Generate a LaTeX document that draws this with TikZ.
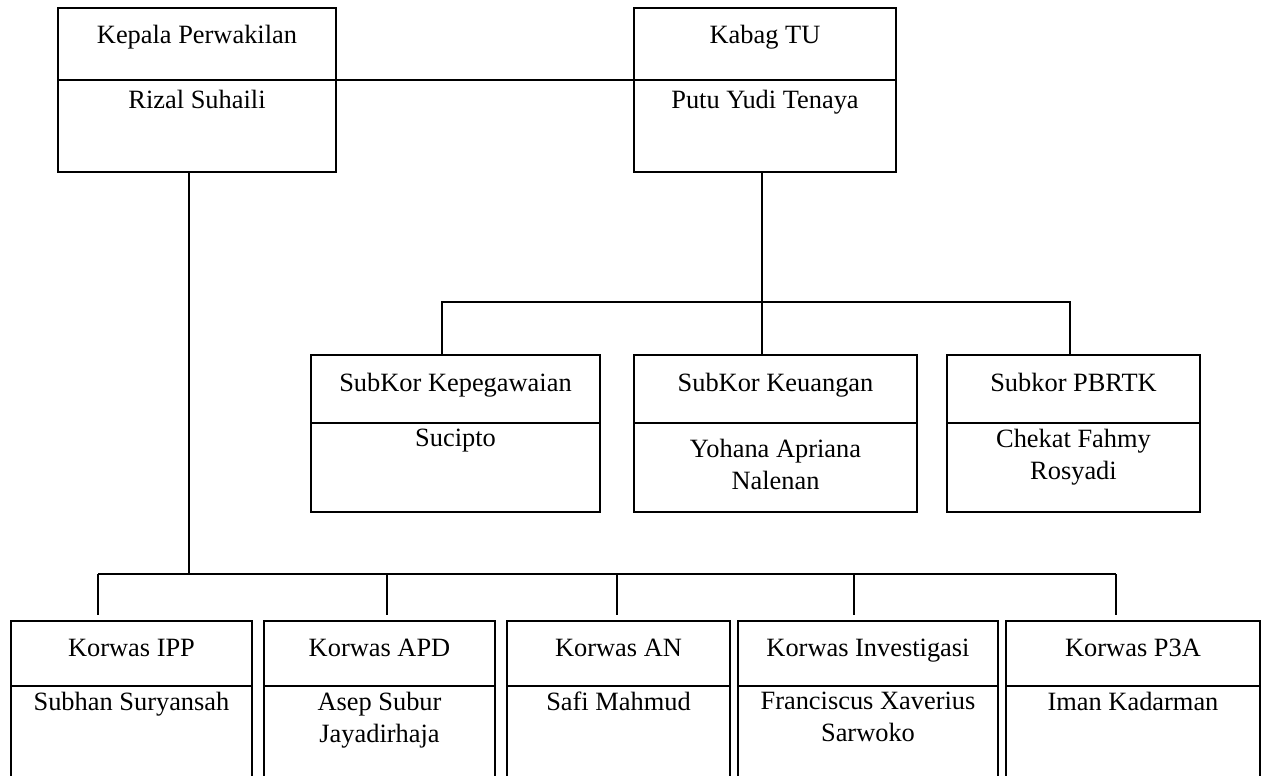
\documentclass[tikz,border=0pt]{standalone}
\usepackage{fontspec}
\setmainfont{Liberation Serif}
\tikzset{
  part/.style={draw, line width=1.6pt, inner sep=0pt, outer sep=0pt, anchor=north west},
  lbl/.style={anchor=base, font=\fontsize{26.4}{32}\selectfont, align=center, inner sep=0pt},
  lbltwo/.style={anchor=north, font=\fontsize{26.4}{32}\selectfont, align=center, inner sep=0pt},
  conn/.style={line width=1.6pt},
}
\begin{document}
\begin{tikzpicture}[x=1pt,y=-1pt]
\useasboundingbox (0,0) rectangle (1267,776);
\clip (0,0) rectangle (1267,776);
% top boxes
\node[part, minimum width=278pt, minimum height=72pt] (kp1) at (58,8) {};
\node[part, minimum width=278pt, minimum height=92pt] (kp2) at (58,80) {};
\node[part, minimum width=262pt, minimum height=72pt] (kb1) at (634,8) {};
\node[part, minimum width=262pt, minimum height=92pt] (kb2) at (634,80) {};
\node[lbl] (kpt) at (197,44) {Kepala Perwakilan};
\node[lbl] (kpn) at (197,109) {Rizal Suhaili};
\node[lbl] (kbt) at (765,44) {Kabag TU};
\node[lbl] (kbn) at (765,109) {Putu Yudi Tenaya};
% middle boxes
\node[part, minimum width=289pt, minimum height=68pt] (kpg1) at (311,355) {};
\node[part, minimum width=289pt, minimum height=89pt] (kpg2) at (311,423) {};
\node[part, minimum width=283pt, minimum height=68pt] (keu1) at (634,355) {};
\node[part, minimum width=283pt, minimum height=89pt] (keu2) at (634,423) {};
\node[part, minimum width=253pt, minimum height=68pt] (pbr1) at (947,355) {};
\node[part, minimum width=253pt, minimum height=89pt] (pbr2) at (947,423) {};
\node[lbl] (kpgt) at (455.5,391) {SubKor Kepegawaian};
\node[lbl] (kpgn) at (455.5,446) {Sucipto};
\node[lbl] (keut) at (775.5,391) {SubKor Keuangan};
\node[lbltwo] (keun) at (775.5,439) {Yohana Apriana\\Nalenan};
\node[lbl] (pbrt) at (1073.5,391) {Subkor PBRTK};
\node[lbltwo] (pbrn) at (1073.5,429) {Chekat Fahmy\\Rosyadi};
% bottom boxes
\node[part, minimum width=241pt, minimum height=65pt] (ipp1) at (11,621) {};
\node[part, minimum width=241pt, minimum height=130pt] (ipp2) at (11,686) {};
\node[part, minimum width=231pt, minimum height=65pt] (apd1) at (264,621) {};
\node[part, minimum width=231pt, minimum height=130pt] (apd2) at (264,686) {};
\node[part, minimum width=223pt, minimum height=65pt] (an1) at (507,621) {};
\node[part, minimum width=223pt, minimum height=130pt] (an2) at (507,686) {};
\node[part, minimum width=260pt, minimum height=65pt] (inv1) at (738,621) {};
\node[part, minimum width=260pt, minimum height=130pt] (inv2) at (738,686) {};
\node[part, minimum width=254pt, minimum height=65pt] (p3a1) at (1006,621) {};
\node[part, minimum width=254pt, minimum height=130pt] (p3a2) at (1006,686) {};
\node[lbl] (ippt) at (131.5,656) {Korwas IPP};
\node[lbl] (ippn) at (131.5,710) {Subhan Suryansah};
\node[lbl] (apdt) at (379.5,656) {Korwas APD};
\node[lbltwo] (apdn) at (379.5,692) {Asep Subur\\Jayadirhaja};
\node[lbl] (ant) at (618.5,656) {Korwas AN};
\node[lbl] (ann) at (618.5,710) {Safi Mahmud};
\node[lbl] (invt) at (868,656) {Korwas Investigasi};
\node[lbltwo] (invn) at (868,692) {Franciscus Xaverius\\Sarwoko};
\node[lbl] (p3at) at (1133,656) {Korwas P3A};
\node[lbl] (p3an) at (1133,710) {Iman Kadarman};
% connectors
\draw[conn] (kp1.south east) -- (kb1.south west);
\coordinate (mj) at (762,302);
\coordinate (ml) at (442,302);
\coordinate (mr) at (1070,302);
\draw[conn] (kb2.south -| mj) -- (mj |- keu1.north);
\draw[conn] (ml |- kpg1.north) -- (ml) -- (mr) -- (mr |- pbr1.north);
\coordinate (bj) at (189,574);
\coordinate (b1) at (98,574);
\coordinate (b2) at (387,574);
\coordinate (b3) at (617,574);
\coordinate (b4) at (854,574);
\coordinate (b5) at (1116,574);
\draw[conn] (kp2.south -| bj) -- (bj);
\draw[conn] (b1) -- (b5);
\draw[conn, shorten >=6pt] (b1) -- (b1 |- ipp1.north);
\draw[conn, shorten >=6pt] (b2) -- (b2 |- apd1.north);
\draw[conn, shorten >=6pt] (b3) -- (b3 |- an1.north);
\draw[conn, shorten >=6pt] (b4) -- (b4 |- inv1.north);
\draw[conn, shorten >=6pt] (b5) -- (b5 |- p3a1.north);
\end{tikzpicture}
\end{document}
